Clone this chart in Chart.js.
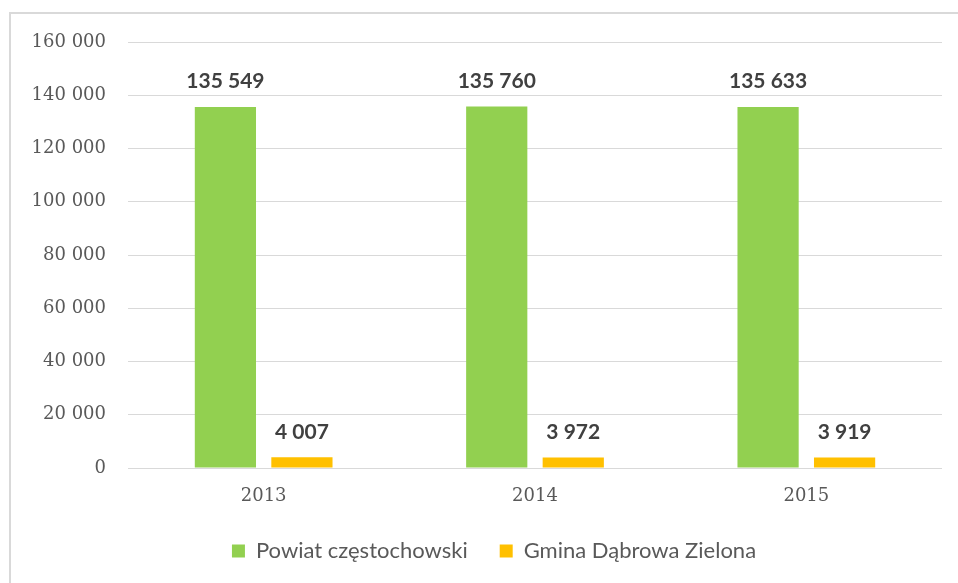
<!DOCTYPE html>
<html>
<head>
<meta charset="utf-8">
<script src="https://cdn.jsdelivr.net/npm/chart.js"></script>
<style>
  html, body { margin: 0; padding: 0; background: #fff; overflow: hidden; }
  #wrap { position: relative; width: 958px; height: 583px; }
  #frame { position: absolute; left: 9px; top: 12px; width: 1000px; height: 700px;
           border: 2px solid #d9d9d9; box-sizing: border-box; }
  canvas { position: absolute; left: 0; top: 0; }
</style>
</head>
<body>
<div id="wrap">
  <div id="frame"></div>
  <canvas id="chart" width="958" height="583"></canvas>
</div>
<script>
  const years = ["2013", "2014", "2015"];
  const powiat = [135549, 135760, 135633];
  const gmina = [4007, 3972, 3919];
  const yTicks = [0, 20000, 40000, 60000, 80000, 100000, 120000, 140000, 160000];

  function fmt(v) {
    return String(v).replace(/\B(?=(\d{3})+(?!\d))/g, " ");
  }

  // labels above the bars
  const valueLabels = {
    id: "valueLabels",
    afterDatasetsDraw(chart) {
      const ctx = chart.ctx;
      ctx.save();
      ctx.font = "bold 21px Lato";
      ctx.fillStyle = "#404040";
      ctx.textAlign = "center";
      ctx.textBaseline = "bottom";
      chart.data.datasets.forEach((ds, i) => {
        chart.getDatasetMeta(i).data.forEach((bar, j) => {
          ctx.fillText(fmt(ds.data[j]), bar.x, bar.y - 15);
        });
      });
      ctx.restore();
    }
  };

  // legend sits a bit right of the canvas centre
  const shiftLegend = {
    id: "shiftLegend",
    afterLayout(chart) {
      chart.legend.left += 23;
      chart.legend.right += 23;
    }
  };

  const ctx = document.getElementById("chart").getContext("2d");
  new Chart(ctx, {
    type: "bar",
    data: {
      labels: years,
      datasets: [
        {
          label: "Powiat częstochowski",
          data: powiat,
          backgroundColor: "#92D050",
          barPercentage: 0.8,
          categoryPercentage: 0.564,
        },
        {
          label: "Gmina Dąbrowa Zielona",
          data: gmina,
          backgroundColor: "#FFC000",
          barPercentage: 0.8,
          categoryPercentage: 0.564,
        },
      ],
    },
    options: {
      responsive: false,
      animation: false,
      layout: { padding: { top: 42, right: 16, bottom: 12, left: 0 } },
      plugins: {
        tooltip: { enabled: false },
        legend: {
          position: "bottom",
          maxHeight: 63,
          labels: {
            boxWidth: 13,
            boxHeight: 13,
            padding: 32,
            color: "#595959",
            font: { family: "Lato", size: 22 },
          },
        },
      },
      scales: {
        x: {
          grid: { display: false, drawTicks: false },
          border: { display: false },
          ticks: {
            color: "#595959",
            padding: 18,
            font: { family: "DejaVu Serif", size: 18 },
          },
          afterFit(scale) { scale.height = 40; },
        },
        y: {
          min: 0,
          max: 160000,
          afterBuildTicks(scale) { scale.ticks = yTicks.map(v => ({ value: v })); },
          grid: { color: "#d9d9d9", lineWidth: 1, drawTicks: false },
          border: { display: false },
          ticks: {
            color: "#595959",
            padding: 22,
            font: { family: "DejaVu Serif", size: 18 },
            callback: v => fmt(v),
          },
          afterFit(scale) { scale.width = 128; },
        },
      },
    },
    plugins: [valueLabels, shiftLegend],
  });
</script>
</body>
</html>
